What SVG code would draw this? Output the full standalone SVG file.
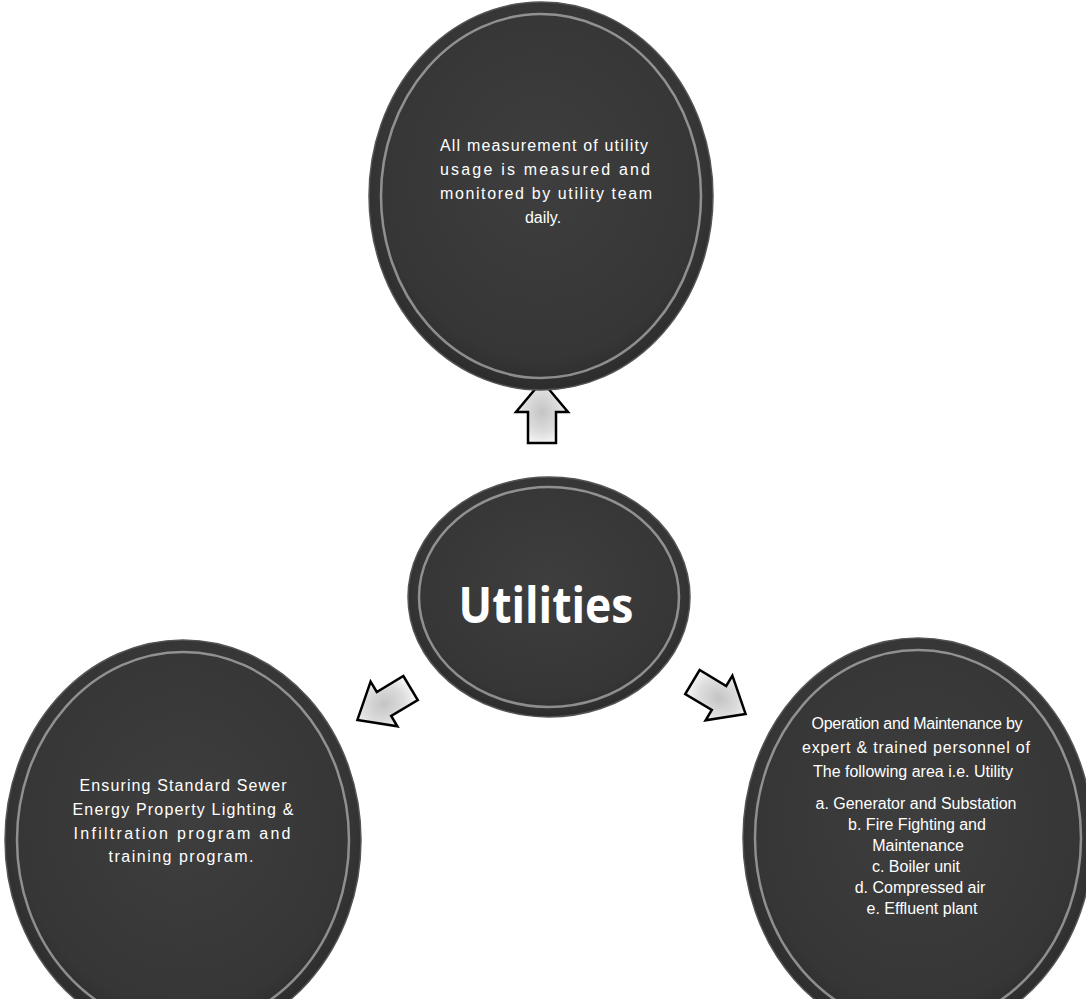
<svg xmlns="http://www.w3.org/2000/svg" width="1086" height="999" viewBox="0 0 1086 999">
<defs>
<radialGradient id="arrowFill" cx="50%" cy="50%" r="60%">
<stop offset="0" stop-color="#c4c4c4"/>
<stop offset="0.55" stop-color="#dddddd"/>
<stop offset="1" stop-color="#ffffff"/>
</radialGradient>
<radialGradient id="discFill" cx="50%" cy="45%" r="55%">
<stop offset="0" stop-color="#3e3e3e"/>
<stop offset="0.85" stop-color="#363636"/>
<stop offset="1" stop-color="#2c2c2c"/>
</radialGradient>
<path id="arrowShape" d="M0,-31 L26,0 L14,0 L14,31 L-14,31 L-14,0 L-26,0 Z"/>
</defs>
<style>
.disc{fill:url(#discFill);stroke:#555;stroke-width:1.5}
.ring{fill:none;stroke:#ffffff;stroke-opacity:0.45;stroke-width:2.5}
.txt{font-family:"Liberation Sans",Arial,sans-serif;font-size:16px;fill:#ffffff;text-anchor:middle}
.title{font-family:"Open Sans","DejaVu Sans",sans-serif;font-size:50px;font-weight:bold;fill:#ffffff;text-anchor:middle}
.arrow{fill:url(#arrowFill);stroke:#000;stroke-width:2.5;stroke-linejoin:miter}
</style>
<rect width="1086" height="999" fill="#ffffff"/>

<g id="connectors">
<use href="#arrowShape" class="arrow" transform="translate(542,412)"/>
<use href="#arrowShape" class="arrow" transform="translate(384,704) rotate(-121)"/>
<use href="#arrowShape" class="arrow" transform="translate(719,698) rotate(121)"/>
</g>

<g id="node-top">
<ellipse class="disc" cx="541" cy="196" rx="172" ry="194"/>
<ellipse class="ring" cx="541" cy="196" rx="160" ry="182"/>
<text class="txt" x="544" y="151" textLength="208" lengthAdjust="spacing">All measurement of utility</text>
<text class="txt" x="545" y="175" textLength="210" lengthAdjust="spacing">usage is measured and</text>
<text class="txt" x="546" y="199" textLength="212" lengthAdjust="spacing">monitored by utility team</text>
<text class="txt" x="543" y="223">daily.</text>
</g>

<g id="node-center">
<ellipse class="disc" cx="549" cy="597" rx="141" ry="120"/>
<ellipse class="ring" cx="549" cy="597" rx="130" ry="110"/>
<text class="title" x="546" y="623" textLength="175" lengthAdjust="spacingAndGlyphs">Utilities</text>
</g>

<g id="node-left">
<ellipse class="disc" cx="183" cy="840" rx="178" ry="200"/>
<ellipse class="ring" cx="183" cy="840" rx="166" ry="188"/>
<text class="txt" x="183" y="791" textLength="207" lengthAdjust="spacing">Ensuring Standard Sewer</text>
<text class="txt" x="183" y="815" textLength="221" lengthAdjust="spacing">Energy Property Lighting &amp;</text>
<text class="txt" x="182" y="839" textLength="217" lengthAdjust="spacing">Infiltration program and</text>
<text class="txt" x="181" y="862" textLength="145" lengthAdjust="spacing">training program.</text>
</g>

<g id="node-right">
<ellipse class="disc" cx="918" cy="838" rx="175" ry="200"/>
<ellipse class="ring" cx="918" cy="838" rx="163" ry="188"/>
<text class="txt" x="917" y="729" textLength="211" lengthAdjust="spacing">Operation and Maintenance by</text>
<text class="txt" x="916" y="753" textLength="228" lengthAdjust="spacing">expert &amp; trained personnel of</text>
<text class="txt" x="913" y="777">The following area i.e. Utility</text>
<text class="txt" x="916" y="809">a. Generator and Substation</text>
<text class="txt" x="917" y="830">b. Fire Fighting and</text>
<text class="txt" x="918" y="851">Maintenance</text>
<text class="txt" x="916" y="872">c. Boiler unit</text>
<text class="txt" x="920" y="893">d. Compressed air</text>
<text class="txt" x="922" y="914">e. Effluent plant</text>
</g>
</svg>
